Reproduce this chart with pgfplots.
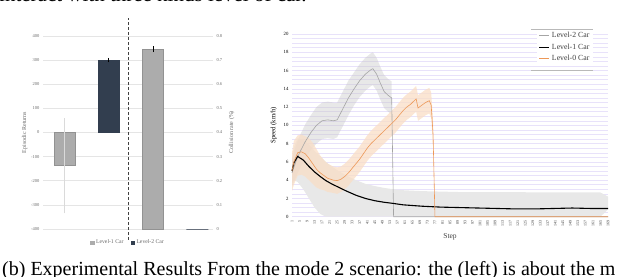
\documentclass[border=0pt]{standalone}
\usepackage{fontspec}
\setmainfont{Liberation Serif}
\usepackage{pgfplots}
\pgfplotsset{compat=1.18}
\usepackage{pgfplotstable}
\definecolor{lvlone}{RGB}{172,172,172}
\definecolor{lvltwo}{RGB}{50,62,79}
\definecolor{lgray}{RGB}{165,165,165}
\definecolor{lorange}{RGB}{237,152,88}
\definecolor{bandgray}{RGB}{232,232,232}
\definecolor{bandorange}{RGB}{249,222,198}
\definecolor{lav}{RGB}{232,226,250}
\definecolor{tickc}{RGB}{105,105,105}

% mean speed of each car
\pgfplotstableread{
s mean
1 4.8
3 6.0
5 7.0
8 8.2
11 9.2
14 10.0
17 10.5
20 10.6
23 10.5
25 10.6
28 11.8
31 13.0
34 14.0
37 14.9
40 15.6
43 16.1
44 16.2
46 15.6
48 14.6
50 13.7
52 13.3
54 13.0
55 0
169 0
}\levtwo

\pgfplotstableread{
s mean
1 5.0
2 5.9
4 6.6
7 6.2
10 5.5
13 4.9
16 4.4
19 3.95
22 3.6
25 3.3
30 2.8
35 2.35
40 2.0
45 1.75
50 1.58
55 1.45
60 1.3
70 1.15
80 1.05
90 1.0
100 0.95
110 0.9
120 0.85
130 0.85
140 0.9
150 0.95
160 0.9
169 0.9
}\levone

\pgfplotstableread{
s mean
1 5.0
2 6.0
4 7.0
6 7.1
8 6.9
10 6.4
12 5.8
14 5.2
16 4.8
18 4.5
20 4.2
23 4.0
25 3.95
27 4.1
29 4.4
31 4.8
33 5.3
35 5.8
37 6.3
39 6.9
41 7.5
43 8.0
46 8.6
48 9.0
50 9.4
52 9.8
54 10.2
56 10.6
58 11.1
60 11.6
62 12.0
64 12.3
66 12.7
67 12.9
68 11.9
70 12.2
72 12.5
74 12.7
75 12.2
76 9.0
77 0
169 0
}\levzero

% spread bands: upper bound forward, lower bound backward
\pgfplotstableread{
s y
1 6.3
3 7.7
5 8.8
8 10.1
11 11.1
14 12.0
17 12.5
20 12.6
23 12.5
25 12.5
28 13.7
31 14.9
34 15.8
37 16.7
40 17.4
43 17.9
44 18.0
46 17.4
48 16.4
50 15.5
52 15.1
54 14.8
54 11.2
52 11.5
50 11.9
48 12.8
46 13.8
44 14.4
43 14.3
40 13.8
37 13.1
34 12.2
31 11.1
28 9.9
25 8.7
23 8.5
20 8.6
17 8.5
14 8.0
11 7.3
8 6.3
5 5.2
3 4.3
1 3.3
}\bandtwo

\pgfplotstableread{
s y
1 6.4
2 7.6
4 8.6
7 8.4
10 7.9
13 7.2
16 6.6
19 6.0
22 5.5
25 5.1
30 4.5
35 4.0
40 3.6
45 3.35
50 3.15
55 3.0
60 2.9
70 2.8
80 2.75
90 2.7
165 2.65
169 2.2
169 0.8
165 0
19 0
16 0.3
13 1.0
10 2.0
7 3.0
4 3.8
2 4.0
1 3.6
}\bandone

\pgfplotstableread{
s y
1 7.0
2 8.3
4 8.9
6 9.0
8 8.8
10 8.6
12 8.1
14 7.4
16 6.7
18 6.2
20 5.8
23 5.5
25 5.4
27 5.5
29 5.8
31 6.2
33 6.7
35 7.2
37 7.7
39 8.3
41 8.9
43 9.4
46 10.0
48 10.4
50 10.8
52 11.2
54 11.6
56 12.0
58 12.5
60 13.0
62 13.4
64 13.7
66 14.1
67 14.3
68 13.3
70 13.6
72 13.9
74 14.1
75 13.6
76 10.4
76 7.6
75 10.8
74 11.3
72 11.1
70 10.8
68 10.5
67 11.5
66 11.3
64 10.9
62 10.6
60 10.2
58 9.7
56 9.2
54 8.8
52 8.4
50 8.0
48 7.6
46 7.2
43 6.6
41 6.1
39 5.5
37 4.9
35 4.4
33 3.9
31 3.4
29 3.0
27 2.7
25 2.5
23 2.6
20 2.7
18 2.9
16 3.0
14 3.2
12 3.6
10 4.0
8 4.4
6 4.6
4 4.5
2 3.5
1 2.8
}\bandzero

\begin{document}
\begin{tikzpicture}
\useasboundingbox (0pt,0pt) rectangle (640pt,276pt);
\clip (0pt,0pt) rectangle (640pt,276pt);

% text of the page around the figure
\node[anchor=base west, inner sep=0pt, font=\fontsize{21}{21}\selectfont] at (-1pt,274pt) {interact with three kinds level of car.};
\node[anchor=base west, inner sep=0pt, font=\fontsize{20}{20}\selectfont] at (2pt,0.4pt) {(b) Experimental Results From the mode 2 scenario: the (left) is about the m};

% ---------- left chart: episodic returns ----------
\begin{axis}[at={(43pt,47pt)}, anchor=south west, scale only axis,
  width=170pt, height=193pt,
  xmin=-0.48, xmax=3.35, ymin=-400, ymax=400,
  ytick={-400,-300,-200,-100,0,100,200,300,400},
  xtick=\empty, axis line style={draw=none}, major tick length=0pt,
  ymajorgrids, grid style={draw=gray!20, line width=0.6pt},
  /pgf/number format/assume math mode=true,
  yticklabel style={font=\fontsize{4.5}{5}\selectfont, text=tickc},
  ylabel={Episodic Returns}, ylabel shift=-3pt,
  ylabel style={font=\fontsize{6}{7}\selectfont, text=tickc},
  legend style={at={(0.5,-0.035)}, anchor=north, draw=none, fill=none,
    legend columns=2, font=\fontsize{5.7}{6}\selectfont, text=tickc,
    /tikz/every even column/.append style={column sep=5pt}},
  clip=false]
\addplot[ybar, bar shift=0pt, bar width=21pt, fill=lvlone, draw=lvlone!85!black, line width=0.4pt, forget plot,
  error bars/.cd, y dir=both, y explicit,
  error bar style={draw=lvlone!45, line width=0.6pt},
  error mark options={draw=lvlone!45, mark size=0.8pt}]
  coordinates {(0,-137) += (0,193) -= (0,195)};
\addplot[ybar, bar shift=0pt, bar width=21pt, fill=lvltwo, draw=lvltwo, line width=0.4pt, forget plot,
  error bars/.cd, y dir=both, y explicit,
  error bar style={draw=black, line width=0.5pt},
  error mark options={draw=black, mark size=1.5pt}]
  coordinates {(1,300) +- (0,3)};
\addlegendimage{legend image code/.code={\fill[lvlone] (0pt,-1.8pt) rectangle (3.6pt,1.8pt);}}
\addlegendentry{Level-1 Car}
\addlegendimage{legend image code/.code={\fill[lvltwo] (0pt,-1.8pt) rectangle (3.6pt,1.8pt);}}
\addlegendentry{Level-2 Car}
\draw[densely dashed, line width=0.7pt, black!75] (axis cs:1.45,-445) -- (axis cs:1.45,475);
\end{axis}

% ---------- left chart: collision rate ----------
\begin{axis}[at={(43pt,47pt)}, anchor=south west, scale only axis,
  width=170pt, height=193pt,
  xmin=-0.48, xmax=3.35, ymin=0, ymax=0.8,
  ytick={0,0.1,0.2,0.3,0.4,0.5,0.6,0.7,0.8},
  yticklabels={0,0.1,0.2,0.3,0.4,0.5,0.6,0.7,0.8},
  axis y line*=right, axis x line=none, axis line style={draw=none},
  major tick length=0pt,
  yticklabel style={font=\fontsize{4.5}{5}\selectfont, text=tickc},
  ylabel={Collision rate (\%)},
  ylabel style={font=\fontsize{6}{7}\selectfont, text=tickc},
  clip=false]
\addplot[ybar, bar shift=0pt, bar width=21pt, fill=lvlone, draw=lvlone!85!black, line width=0.4pt,
  error bars/.cd, y dir=both, y explicit,
  error bar style={draw=black, line width=0.5pt},
  error mark options={draw=black, mark size=1.5pt}]
  coordinates {(2,0.745) +- (0,0.006)};
\addplot[ybar, bar shift=0pt, bar width=22pt, fill=lvltwo, draw=lvltwo, line width=0.8pt]
  coordinates {(3,0)};
\end{axis}

% ---------- right chart: speed ----------
\begin{axis}[at={(292pt,59.3pt)}, anchor=south west, scale only axis,
  width=316pt, height=182.7pt,
  xmin=1, xmax=169, ymin=0, ymax=20,
  ytick={0,2,...,20}, minor y tick num=3,
  xtick={1,5,...,169},
  ymajorgrids, yminorgrids,
  major grid style={draw=lav, line width=0.6pt},
  minor grid style={draw=lav, line width=0.5pt},
  axis line style={draw=none}, major tick length=0pt, minor tick length=0pt,
  /pgf/number format/assume math mode=true,
  xticklabel style={rotate=90, anchor=east, font=\fontsize{4}{4}\selectfont, text=black!80},
  yticklabel style={font=\fontsize{4.8}{5}\selectfont},
  xlabel={Step}, xlabel style={font=\fontsize{7.5}{8}\selectfont, text=black!75},
  ylabel={Speed (km/h)}, ylabel style={font=\fontsize{6.8}{7}\selectfont},
  legend style={at={(0.953,1.03)}, anchor=north east, draw=none, fill=white,
    font=\fontsize{7.8}{8}\selectfont, text=black!75, row sep=0.5pt,
    inner sep=1.5pt},
  legend cell align=left,
  legend image code/.code={\draw[#1] (0pt,0pt) -- (10pt,0pt);},
  clip=false]
% bands
\addplot[fill=bandgray, draw=none, forget plot] table[x=s, y=y] {\bandone};
\addplot[fill=bandgray!85!black, fill opacity=0.4, draw=none, forget plot] table[x=s, y=y] {\bandtwo};
\addplot[fill=bandorange, fill opacity=0.75, draw=none, forget plot] table[x=s, y=y] {\bandzero};
% lines
\addplot[lgray, line width=0.6pt] table[x=s, y=mean] {\levtwo};
\addlegendentry{Level-2 Car}
\addplot[black, line width=1.1pt] table[x=s, y=mean] {\levone};
\addlegendentry{Level-1 Car}
\addplot[lorange, line width=0.6pt] table[x=s, y=mean] {\levzero};
\addlegendentry{Level-0 Car}
\end{axis}
\draw[gray!55, line width=1pt] (531pt,246pt) -- (593pt,246pt);
\draw[gray!55, line width=1pt] (531pt,205pt) -- (593pt,205pt);
\end{tikzpicture}
\end{document}
